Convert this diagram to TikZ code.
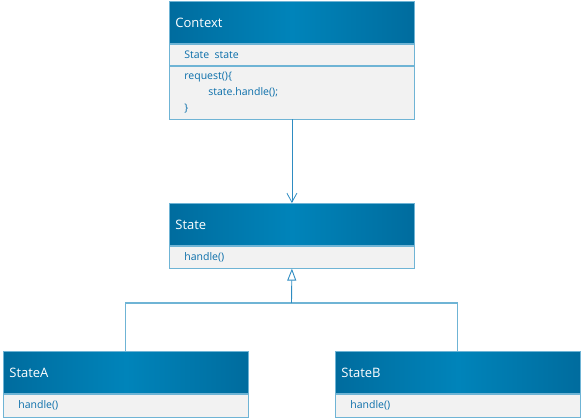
\documentclass[tikz,border=0pt]{standalone}
\usepackage{fontspec}
\setmainfont{Open Sans}
\usetikzlibrary{arrows.meta,positioning}
\definecolor{hdrdark}{HTML}{006C9E}
\definecolor{hdrlight}{HTML}{0084BA}
\definecolor{edge}{HTML}{6FB4D5}
\definecolor{bodyfill}{HTML}{F2F2F2}
\definecolor{txt}{HTML}{0A6EAA}
\definecolor{wire}{HTML}{2E8CC2}
\tikzset{
  header/.style={anchor=north west,minimum width=245pt,minimum height=42pt,
    text width=233pt,inner xsep=6pt,inner ysep=0pt,align=left,draw=edge,line width=.8pt,
    left color=hdrdark,right color=hdrdark,middle color=hdrlight,
    text=white,font=\fontsize{13}{15}\selectfont},
  compart/.style={anchor=north west,minimum width=245pt,text width=215pt,
    inner xsep=15pt,inner ysep=0pt,align=left,draw=edge,line width=.8pt,fill=bodyfill,
    text=txt,font=\fontsize{10.5}{16}\selectfont},
  assoc/.style={wire,line width=.8pt,-{Straight Barb[length=9pt,width=10pt]}},
  tree/.style={edge,line width=1.1pt}
}
\begin{document}
\begin{tikzpicture}[x=1pt,y=-1pt]
  \useasboundingbox (0,0) rectangle (582,419);
  % Context
  \node[header] (ctx) at (169,1) {Context};
  \node[compart,minimum height=21pt] (ctxattr) at (ctx.south west) {State\enspace state};
  \node[compart,minimum height=53pt] (ctxops) at (ctxattr.south west)
    {request()\{\\\hspace*{24pt}state.handle();\\\}};
  \draw[edge,line width=.7pt,dash pattern=on 1pt off 1pt]
    ([xshift=4pt]ctxattr.south west) -- ([xshift=-4pt]ctxattr.south east);
  % State and its subclasses
  \node[header] (stt) at (169,203) {State};
  \node[compart,minimum height=22pt] (sttops) at (stt.south west) {handle()};
  \node[header] (sta) at (3,351) {StateA};
  \node[compart,minimum height=23pt] (staops) at (sta.south west) {handle()};
  \node[header] (stb) at (335,351) {StateB};
  \node[compart,minimum height=23pt] (stbops) at (stb.south west) {handle()};

  \draw[assoc] (ctxops.south) -- (stt.north);
  \coordinate (fork) at (291.5,303);
  \draw[tree] (sta.north) |- (fork) -| (stb.north);
  \draw[wire,line width=.9pt,-{Triangle[open,length=12pt,width=9pt]}] (fork) -- (sttops.south);
\end{tikzpicture}
\end{document}
